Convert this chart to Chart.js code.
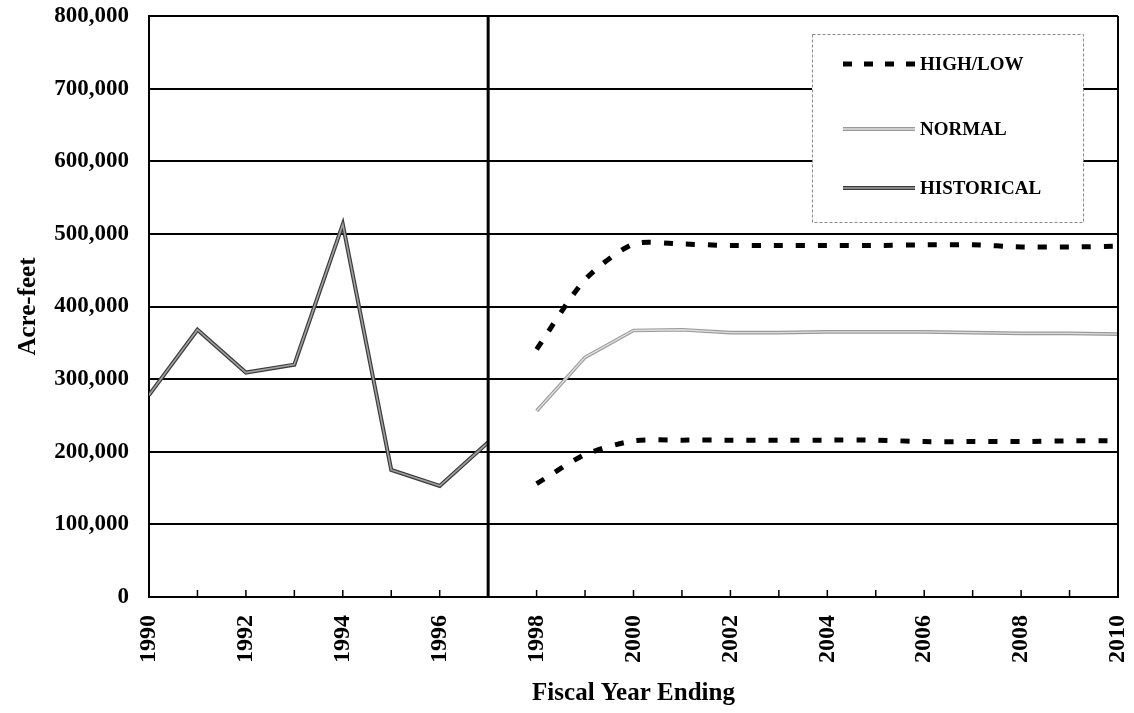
<!DOCTYPE html>
<html>
<head>
<meta charset="utf-8">
<script src="https://cdn.jsdelivr.net/npm/chart.js@4.4.0/dist/chart.umd.min.js"></script>
<style>
  html, body { margin: 0; padding: 0; background: #fff; }
  #wrap { width: 1134px; height: 713px; }
</style>
</head>
<body>
<div id="wrap"><canvas id="myChart" width="1134" height="713"></canvas></div>
<script>
// historical record
const histYears = [1990, 1991, 1992, 1993, 1994, 1995, 1996, 1997];
const histValues = [278000, 368000, 309000, 320000, 513000, 175000, 153000, 213000];

// projections
const projYears = [1998, 1999, 2000, 2001, 2002, 2003, 2004, 2005, 2006, 2007, 2008, 2009, 2010];
const highValues = [341000, 437000, 486000, 486000, 484000, 484000, 484000, 484000, 485000, 485000, 482000, 482000, 483000];
const normalValues = [256000, 330000, 367000, 368000, 364000, 364000, 365000, 365000, 365000, 364000, 363000, 363000, 362000];
const lowValues = [156000, 196000, 215000, 216000, 216000, 216000, 216000, 216000, 214000, 214000, 214000, 215000, 215000];

const yTicks = [0, 100000, 200000, 300000, 400000, 500000, 600000, 700000, 800000];
const legendLabels = ['HIGH/LOW', 'NORMAL', 'HISTORICAL'];

const toPoints = (xs, ys) => xs.map((x, i) => ({ x: x, y: ys[i] }));
const serif = '"Liberation Serif", "Times New Roman", serif';

// scanned lines look like a pale core with a darker rim
const HIST_RIM = '#3c3c3c', HIST_CORE = '#a0a0a0';
const NORM_RIM = '#9a9a9a', NORM_CORE = '#dedede';

function sample(c, x0, x1, y, rim, core) {
    c.strokeStyle = rim;
    c.lineWidth = 4;
    c.beginPath(); c.moveTo(x0, y); c.lineTo(x1, y); c.stroke();
    c.strokeStyle = core;
    c.lineWidth = 1.6;
    c.beginPath(); c.moveTo(x0, y); c.lineTo(x1, y); c.stroke();
}

// 1997 divider, right border, inner year ticks and the boxed legend
const extras = {
    id: 'extras',
    afterDraw(chart) {
        const c = chart.ctx;
        const x = chart.scales.x;
        const area = chart.chartArea;
        c.save();
        c.strokeStyle = '#000';
        c.lineWidth = 2;
        c.beginPath();
        c.moveTo(area.right, area.top);
        c.lineTo(area.right, area.bottom);
        c.stroke();

        c.lineWidth = 3;
        const xd = x.getPixelForValue(1997);
        c.beginPath();
        c.moveTo(xd, area.top);
        c.lineTo(xd, area.bottom);
        c.stroke();

        c.lineWidth = 1.5;
        for (let yr = 1991; yr < 2010; yr++) {
            const px = x.getPixelForValue(yr);
            c.beginPath();
            c.moveTo(px, area.bottom);
            c.lineTo(px, area.bottom - 7);
            c.stroke();
        }

        // legend box
        const bx = area.right - 306, by = area.top + 18, bw = 271, bh = 188;
        c.fillStyle = '#fff';
        c.fillRect(bx, by, bw, bh);
        c.strokeStyle = '#888';
        c.lineWidth = 1;
        c.setLineDash([3, 2]);
        c.strokeRect(bx + 0.5, by + 0.5, bw, bh);
        c.setLineDash([]);

        const rows = [by + 30, by + 95, by + 154];
        const sx0 = bx + 31, sx1 = bx + 103;
        c.strokeStyle = '#000';
        c.lineWidth = 5;
        c.setLineDash([9, 12]);
        c.beginPath();
        c.moveTo(sx0, rows[0]);
        c.lineTo(sx1, rows[0]);
        c.stroke();
        c.setLineDash([]);
        sample(c, sx0, sx1, rows[1], NORM_RIM, NORM_CORE);
        sample(c, sx0, sx1, rows[2], HIST_RIM, HIST_CORE);

        c.fillStyle = '#000';
        c.font = 'bold 19px ' + serif;
        c.textBaseline = 'middle';
        c.textAlign = 'left';
        legendLabels.forEach((t, i) => c.fillText(t, sx1 + 5, rows[i] + 1));
        c.restore();
    }
};

const lineSet = (label, data, color, width, order) => ({
    label: label,
    data: data,
    borderColor: color,
    borderWidth: width,
    pointRadius: 0,
    tension: 0,
    order: order
});

const ctx = document.getElementById('myChart').getContext('2d');
const myChart = new Chart(ctx, {
    type: 'line',
    data: {
        datasets: [
            lineSet('HISTORICAL rim', toPoints(histYears, histValues), HIST_RIM, 4, 4),
            lineSet('HISTORICAL', toPoints(histYears, histValues), HIST_CORE, 1.6, 3),
            lineSet('NORMAL rim', toPoints(projYears, normalValues), NORM_RIM, 3.6, 4),
            lineSet('NORMAL', toPoints(projYears, normalValues), NORM_CORE, 1.4, 3),
            {
                label: 'HIGH',
                data: toPoints(projYears, highValues),
                borderColor: '#000',
                borderWidth: 5,
                borderDash: [9, 13],
                pointRadius: 0,
                tension: 0.25
            },
            {
                label: 'LOW',
                data: toPoints(projYears, lowValues),
                borderColor: '#000',
                borderWidth: 5,
                borderDash: [9, 13],
                pointRadius: 0,
                tension: 0.25
            }
        ]
    },
    options: {
        responsive: false,
        animation: false,
        layout: { padding: { top: 0, right: 0, left: 0, bottom: 0 } },
        plugins: {
            legend: { display: false },
            tooltip: { enabled: false }
        },
        scales: {
            x: {
                type: 'linear',
                min: 1990,
                max: 2010,
                border: { color: '#000', width: 2 },
                grid: { drawOnChartArea: false, drawTicks: false },
                ticks: {
                    stepSize: 2,
                    minRotation: 90,
                    maxRotation: 90,
                    padding: 18,
                    color: '#000',
                    font: { family: serif, size: 24, weight: 'bold' },
                    callback: (v) => String(v)
                },
                title: {
                    display: true,
                    text: 'Fiscal Year Ending',
                    color: '#000',
                    font: { family: serif, size: 25, weight: 'bold' },
                    padding: { top: 8 }
                },
                afterFit: (scale) => {
                    scale.height = 116;
                    scale.paddingRight = 16;
                    scale.paddingLeft = 0;
                }
            },
            y: {
                min: 0,
                max: 800000,
                border: { color: '#000', width: 2 },
                grid: { color: '#000', lineWidth: 2, drawTicks: false },
                afterBuildTicks: (scale) => { scale.ticks = yTicks.map(v => ({ value: v })); },
                ticks: {
                    padding: 20,
                    color: '#000',
                    font: { family: serif, size: 23, weight: 'bold' },
                    callback: (v) => v.toLocaleString('en-US')
                },
                title: {
                    display: true,
                    text: 'Acre-feet',
                    color: '#000',
                    font: { family: serif, size: 25, weight: 'bold' },
                    padding: { top: 14 }
                },
                afterFit: (scale) => {
                    scale.width = 149;
                    scale.paddingTop = 16;
                    scale.paddingBottom = 0;
                }
            }
        }
    },
    plugins: [extras]
});
</script>
</body>
</html>
